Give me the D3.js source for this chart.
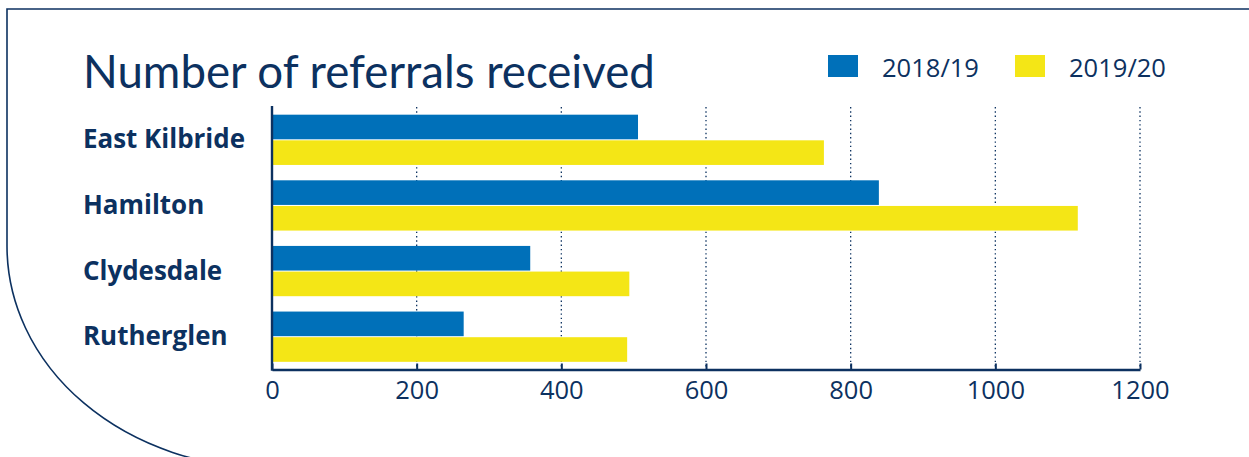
<!DOCTYPE html>
<html>
<head>
<meta charset="utf-8">
<script src="https://cdn.jsdelivr.net/npm/d3@7/dist/d3.min.js"></script>
<style>
  html, body { margin: 0; padding: 0; background: #ffffff; }
  svg { display: block; }
</style>
</head>
<body>
<script>
// ---- data ----
const categories = ["East Kilbride", "Hamilton", "Clydesdale", "Rutherglen"];
const seriesNames = ["2018/19", "2019/20"];
const values2018 = [506, 839, 357, 265];
const values2019 = [763, 1114, 494, 491];
const xTicks = [0, 200, 400, 600, 800, 1000, 1200];
const titleText = "Number of referrals received";

// ---- styles ----
const W = 1249, H = 457;
const navy = "#0c3160";
const colors = ["#0070b9", "#f4e616"];
const font = "'Open Sans', sans-serif";

const svg = d3.select("body").append("svg").attr("width", W).attr("height", H);

// frame with curved bottom-left corner
svg.append("path")
  .attr("d", "M1252,9 H7 V246 A262,222 0 0 0 269,468")
  .attr("fill", "none").attr("stroke", navy).attr("stroke-width", 1.6);

function fitText(sel, target) {
  const node = sel.node();
  const fs = parseFloat(sel.attr("font-size"));
  const w = node.getComputedTextLength();
  if (w > 0) sel.attr("font-size", (fs * target / w).toFixed(2));
}

// title
const title = svg.append("text").attr("x", 83).attr("y", 88)
  .attr("font-family", "Lato, 'Open Sans', sans-serif").attr("font-size", 46)
  .attr("fill", navy).text(titleText);
fitText(title, 572);

// scales
const x = d3.scaleLinear().domain([0, 1200]).range([272, 1140]);
const y0 = d3.scaleBand().domain(categories).range([107, 369.5])
  .paddingInner(0.234).paddingOuter(0.117);
const y1 = d3.scaleBand().domain(seriesNames).range([0, y0.bandwidth()]).paddingInner(0.04);

// gridlines
svg.append("g").selectAll("line").data(xTicks.filter(d => d > 0)).join("line")
  .attr("x1", d => x(d)).attr("x2", d => x(d))
  .attr("y1", 107).attr("y2", 369)
  .attr("stroke", navy).attr("stroke-width", 1.3)
  .attr("stroke-dasharray", "1.4,2.9");

// bars
const rows = categories.map((c, i) => ({ cat: c, vals: [values2018[i], values2019[i]] }));
const g = svg.append("g");
rows.forEach(r => {
  r.vals.forEach((v, j) => {
    g.append("rect")
      .attr("x", x(0))
      .attr("y", y0(r.cat) + y1(seriesNames[j]))
      .attr("width", x(v) - x(0))
      .attr("height", y1.bandwidth())
      .attr("fill", colors[j]);
  });
});

// x axis
const xAxis = d3.axisBottom(x).tickValues(xTicks).tickFormat(d3.format("d"))
  .tickSize(-6).tickPadding(11).tickSizeOuter(0);
const ax = svg.append("g").attr("transform", "translate(0,369.5)").call(xAxis);
ax.select(".domain").attr("stroke", navy).attr("stroke-width", 2.6);
ax.selectAll(".tick line").attr("stroke", navy).attr("stroke-width", 2);
ax.selectAll(".tick text").attr("fill", navy).attr("font-family", font).attr("font-size", 25.5);

// y axis line
svg.append("line").attr("x1", 272).attr("x2", 272).attr("y1", 106).attr("y2", 370.8)
  .attr("stroke", navy).attr("stroke-width", 2.4);

// category labels
categories.forEach(c => {
  svg.append("text").attr("class", "cat").attr("x", 83)
    .attr("y", y0(c) + y0.bandwidth() / 2 + 8.5)
    .attr("font-family", font).attr("font-weight", 700).attr("font-size", 24)
    .attr("fill", navy).text(c);
});
const labels = svg.selectAll("text.cat");
const ekW = labels.filter(function () { return this.textContent === categories[0]; }).node().getComputedTextLength();
labels.attr("font-size", (24 * 162 / ekW).toFixed(2));

// legend
const legendX = [828, 1015];
seriesNames.forEach((s, j) => {
  svg.append("rect").attr("x", legendX[j]).attr("y", 55).attr("width", 30).attr("height", 22).attr("fill", colors[j]);
  const t = svg.append("text").attr("x", legendX[j] + 54).attr("y", 77)
    .attr("font-family", font).attr("font-size", 25).attr("fill", navy).text(s);
  fitText(t, 97);
});
</script>
</body>
</html>
